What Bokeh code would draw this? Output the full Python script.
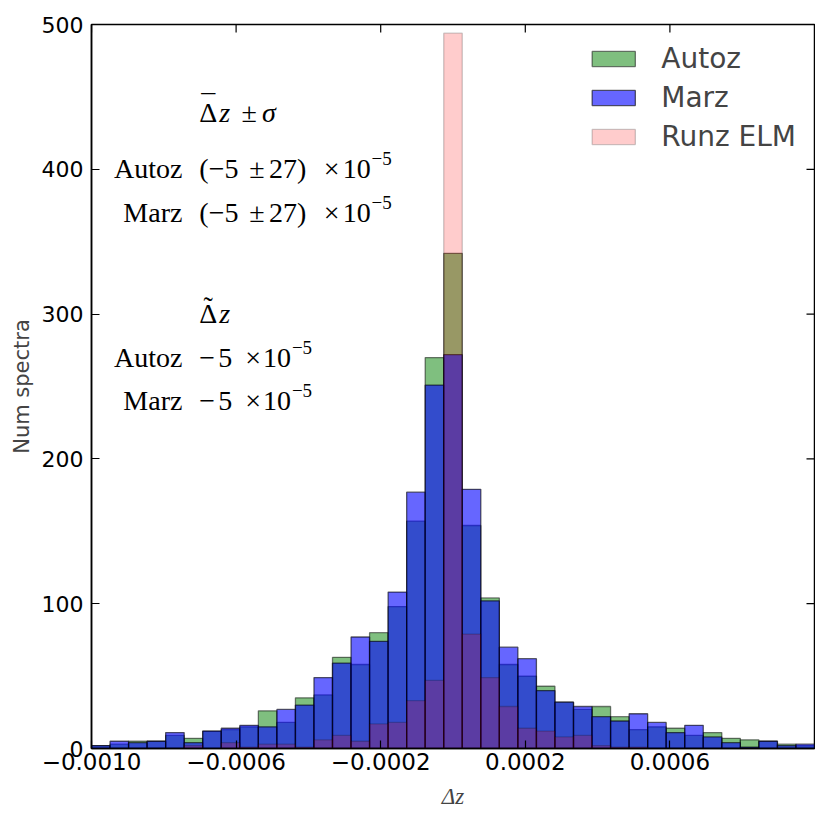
import numpy as np
from bokeh.plotting import figure
from bokeh.models import (ColumnDataSource, FixedTicker, Label, Range1d,
                          Legend, LegendItem)
from bokeh.embed import file_html
from bokeh.resources import INLINE

# ---------------- data ----------------
x_lo, x_hi, n_bins = -0.001, 0.001, 39
autoz = [2, 3, 5, 5, 9, 7, 12, 13, 15, 26, 18, 35, 37, 63, 58, 80, 98, 157, 270, 342,
         154, 104, 58, 50, 43, 32, 27, 29, 22, 13, 15, 14, 9, 11, 7, 6, 5, 3, 2]
marz = [2, 5, 4, 5, 11, 4, 12, 14, 16, 15, 27, 30, 49, 59, 77, 74, 108, 177, 251, 272,
        179, 102, 70, 62, 40, 32, 29, 22, 19, 24, 18, 11, 16, 8, 4, 1, 5, 2, 3]
runz = [0, 0, 0, 0, 0, 2, 0, 4, 1, 3, 3, 1, 6, 9, 5, 17, 18, 33, 47, 494,
        79, 49, 29, 14, 12, 8, 9, 2, 1, 1, 0, 0, 0, 0, 0, 0, 0, 0, 0]
series_names = ["Autoz", "Marz", "Runz ELM"]
x_ticks = [-0.001, -0.0006, -0.0002, 0.0002, 0.0006]
x_tick_labels = ["\u22120.0010", "\u22120.0006", "\u22120.0002", "0.0002", "0.0006"]
y_lo, y_hi = 0, 500
y_ticks = [0, 100, 200, 300, 400, 500]

edges = np.linspace(x_lo, x_hi, n_bins + 1)

FRAME_W, FRAME_H = 723, 724
B_LEFT, B_TOP, B_BOTTOM, B_RIGHT = 91, 24, 67, 1

p = figure(width=B_LEFT + FRAME_W + B_RIGHT, height=B_TOP + FRAME_H + B_BOTTOM,
           output_backend="svg", toolbar_location=None,
           x_range=Range1d(x_lo, x_hi), y_range=Range1d(y_lo, y_hi),
           min_border_left=B_LEFT, min_border_right=B_RIGHT,
           min_border_top=B_TOP, min_border_bottom=B_BOTTOM)
p.xgrid.visible = False
p.ygrid.visible = False
p.outline_line_color = "black"
p.outline_line_width = 1.5
p.background_fill_color = "white"
p.border_fill_color = "white"

styles = [("#008000", 0.5), ("#0000ff", 0.6), ("#ff0000", 0.2)]
renderers = []
for vals, (col, a) in zip([autoz, marz, runz], styles):
    src = ColumnDataSource(dict(left=edges[:-1], right=edges[1:], top=vals,
                                bottom=[0] * len(vals)))
    r = p.quad(left="left", right="right", top="top", bottom="bottom", source=src,
               fill_color=col, fill_alpha=a, line_color="black", line_alpha=a,
               line_width=1.3)
    renderers.append(r)

legend = Legend(items=[LegendItem(label=n, renderers=[r]) for n, r in zip(series_names, renderers)],
                location="top_right", label_text_font="DejaVu Sans",
                label_text_font_size="28px", glyph_width=54, glyph_height=19,
                label_standoff=21, spacing=6, padding=10, margin=18,
                border_line_color=None, background_fill_alpha=0.0)
p.add_layout(legend)

# axes
for ax in [p.xaxis[0], p.yaxis[0]]:
    ax.axis_line_width = 1.5
    ax.major_tick_in = 8
    ax.major_tick_out = 0
    ax.minor_tick_line_color = None
    ax.major_tick_line_width = 1.2
    ax.major_label_text_font = "DejaVu Sans"
    ax.major_label_text_font_size = "22px"
    ax.major_label_text_color = "black"
p.xaxis.ticker = FixedTicker(ticks=x_ticks)
p.xaxis.major_label_overrides = {t: l for t, l in zip(x_ticks, x_tick_labels)}
p.xaxis.major_label_text_font_size = "23px"
p.xaxis.major_label_standoff = 4
p.yaxis.ticker = FixedTicker(ticks=y_ticks)
p.yaxis.major_label_standoff = 8

p.xaxis.axis_label = "\u0394z"
p.xaxis.axis_label_text_font = "Liberation Serif"
p.xaxis.axis_label_text_font_style = "italic"
p.xaxis.axis_label_text_font_size = "23px"
p.xaxis.axis_label_standoff = 11
p.yaxis.axis_label = "Num spectra"
p.yaxis.axis_label_text_font = "DejaVu Sans"
p.yaxis.axis_label_text_font_style = "normal"
p.yaxis.axis_label_text_font_size = "21px"
p.yaxis.axis_label_standoff = 5

# mirrored inward ticks on the top and right spines (derived from tick lists)
tick_len_x = 8 / FRAME_W * (x_hi - x_lo)
tick_len_y = 8 / FRAME_H * (y_hi - y_lo)
p.segment(x0=x_ticks, y0=[y_hi] * len(x_ticks), x1=x_ticks,
          y1=[y_hi - tick_len_y] * len(x_ticks), line_color="black", line_width=1.2)
p.segment(x0=[x_hi] * len(y_ticks), y0=y_ticks, x1=[x_hi - tick_len_x] * len(y_ticks),
          y1=y_ticks, line_color="black", line_width=1.2)

# ---------------- statistics annotation ----------------
# positions given in reference pixels (frame from x=91.7..818, y=24..748)
def px2x(px):
    return x_lo + (px - 91.7) / 726.3 * (x_hi - x_lo)

def px2y(py):
    return (748 - py) / 724 * (y_hi - y_lo)

SERIF = "Liberation Serif"
def lab(text, px, py, size=28, align="left", style="normal"):
    p.add_layout(Label(x=px2x(px), y=px2y(py), text=text, text_font=SERIF,
                       text_font_size=f"{size}px", text_align=align,
                       text_baseline="alphabetic", text_font_style=style,
                       text_color="black"))

# header 1: mean +/- sigma
lab("\u0394", 200, 112)
lab("\u00af", 209, 104, align="center")
lab("z", 220, 112, style="italic")
lab("\u00b1", 250, 112, align="center")
lab("\u03c3", 263, 112, style="italic")
for name, base in [("Autoz", 168), ("Marz", 212)]:
    lab(name, 183, base, align="right")
    lab("(\u22125", 200, base)
    lab("\u00b1", 258, base, align="center")
    lab("27)", 270, base)
    lab("\u00d7", 333, base, align="center")
    lab("10", 344, base)
    lab("\u22125", 373, base - 10, size=19)
# header 2: median
lab("\u0394", 200, 313)
lab("\u02dc", 209, 306, align="center")
lab("z", 220, 313, style="italic")
for name, base in [("Autoz", 357), ("Marz", 400)]:
    lab(name, 183, base, align="right")
    lab("\u2212", 200, base)
    lab("5", 219, base)
    lab("\u00d7", 254, base, align="center")
    lab("10", 264, base)
    lab("\u22125", 293, base - 10, size=19)

open("out.html", "w").write(file_html(p, INLINE))
